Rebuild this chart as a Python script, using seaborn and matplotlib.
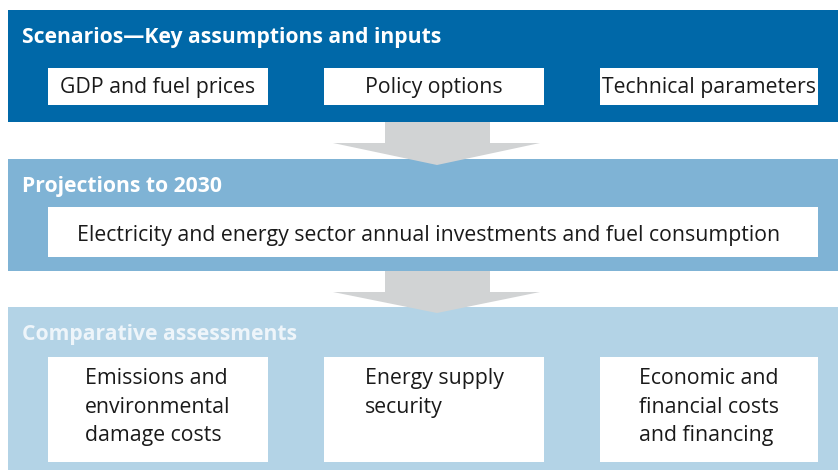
import matplotlib
matplotlib.use("Agg")
import matplotlib.pyplot as plt
import seaborn as sns
from matplotlib.patches import Rectangle, Polygon

# Contenu du schéma
panel_titles = ["Scenarios\u2014Key assumptions and inputs", "Projections to 2030", "Comparative assessments"]
panel_colors = ["#0068a8", "#7fb3d5", "#b3d3e6"]
title_colors = ["white", "white", "#eef5fa"]
inputs = ["GDP and fuel prices", "Policy options", "Technical parameters"]
projection = ["Electricity and energy sector annual investments and fuel consumption"]
assessments = ["Emissions and\nenvironmental\ndamage costs", "Energy supply\nsecurity", "Economic and\nfinancial costs\nand financing"]

sns.set_theme(style="white")
plt.rcParams['font.family'] = ['Open Sans', 'DejaVu Sans']

fig = plt.figure(figsize=(8.38, 4.73), dpi=100)
ax = fig.add_axes([0, 0, 1, 1])
ax.set_xlim(0, 838)
ax.set_ylim(473, 0)
ax.axis('off')

# panneaux (y haut, y bas)
panels = [(10, 122), (159, 271), (307, 470)]
for (y0, y1), c, t, tc in zip(panels, panel_colors, panel_titles, title_colors):
    ax.add_patch(Rectangle((8, y0), 830, y1 - y0, color=c, lw=0, zorder=1))
    ax.text(22, y0 + 27, t, color=tc, fontsize=15.2, fontweight='bold', va='center', ha='left', zorder=3)

# flèches grises
for top, head, tip in [(122, 143, 165), (271, 292, 313)]:
    pts = [(385, top), (490, top), (490, head), (540, head), (437, tip), (333, head), (385, head)]
    ax.add_patch(Polygon(pts, closed=True, color="#d1d3d4", lw=0, zorder=2))

box_x = [(48, 268), (324, 544), (600, 818)]
fs = 15.3

# rangée 1
for (x0, x1), lab in zip(box_x, inputs):
    ax.add_patch(Rectangle((x0, 68), x1 - x0, 37, color="white", lw=0, zorder=2))
    ax.text((x0 + x1) / 2, 88, lab, fontsize=fs, ha='center', va='center', color='#1a1a1a', zorder=3)

# rangée 2
ax.add_patch(Rectangle((48, 207), 770, 50, color="white", lw=0, zorder=2))
ax.text(429, 235, projection[0], fontsize=fs, ha='center', va='center', color='#1a1a1a', zorder=3)

# rangée 3
for (x0, x1), lab in zip(box_x, assessments):
    ax.add_patch(Rectangle((x0, 357), x1 - x0, 105, color="white", lw=0, zorder=2))
    ax.text((x0 + x1) / 2, 368, lab, fontsize=fs, ha='center', va='top', multialignment='left',
            linespacing=1.47, color='#1a1a1a', zorder=3)

plt.savefig("out.png", dpi=100)
plt.close()
